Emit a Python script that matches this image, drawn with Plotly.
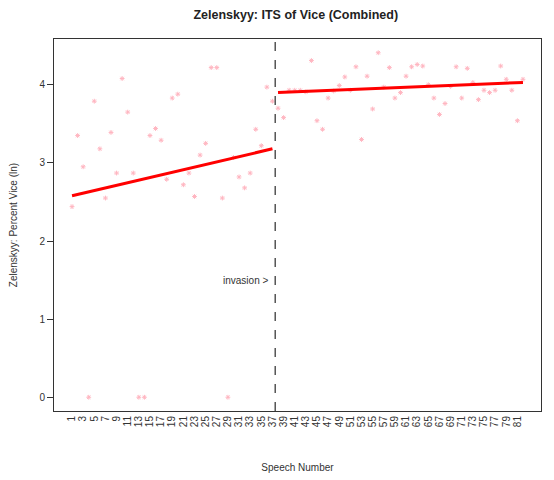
import plotly.graph_objects as go

speech = list(range(1, 83))
vice = [2.44, 3.35, 2.95, 0.00, 3.79, 3.18, 2.55, 3.39, 2.87, 4.08,
        3.65, 2.87, 0.00, 0.00, 3.35, 3.44, 3.29, 2.79, 3.83, 3.88,
        2.72, 2.87, 2.57, 3.10, 3.25, 4.22, 4.22, 2.55, 0.00, 3.07,
        2.82, 2.68, 2.87, 3.43, 3.22, 3.97, 3.79, 3.70, 3.58, 3.93,
        3.93, 3.93, 3.91, 4.31, 3.54, 3.43, 3.83, 3.92, 3.99, 4.10,
        3.93, 4.23, 3.30, 4.11, 3.69, 4.41, 3.97, 4.22, 3.83, 3.90,
        4.11, 4.23, 4.26, 4.24, 4.00, 3.83, 3.62, 3.76, 3.98, 4.23,
        3.83, 4.21, 4.03, 3.81, 3.93, 3.90, 3.93, 4.24, 4.07, 3.93,
        3.54, 4.07]

pre_x = [1, 37]
pre_fit = [2.58, 3.18]
post_x = [38, 82]
post_fit = [3.90, 4.03]

invasion_x = 37.5
tick_vals = list(range(1, 82, 2))
tick_text = [str(v) for v in tick_vals]

fig = go.Figure()
fig.add_trace(go.Scatter(x=speech, y=vice, mode="markers",
                         marker=dict(symbol="asterisk-open", size=4, color="#FFB6C1",
                                     line=dict(width=1, color="#FFB6C1")),
                         showlegend=False, hoverinfo="x+y"))
fig.add_trace(go.Scatter(x=pre_x, y=pre_fit, mode="lines",
                         line=dict(color="#FF0000", width=3), showlegend=False))
fig.add_trace(go.Scatter(x=post_x, y=post_fit, mode="lines",
                         line=dict(color="#FF0000", width=3), showlegend=False))

fig.add_shape(type="line", x0=invasion_x, x1=invasion_x, xref="x", yref="paper",
              y0=0, y1=1, line=dict(color="#555555", width=1.5, dash="dash"))
fig.add_annotation(x=invasion_x, y=1.5, xref="x", yref="y", text="invasion >",
                   showarrow=False, xanchor="right", xshift=-5,
                   font=dict(size=10, color="#333333"))

font_family = "Liberation Sans, Arial, sans-serif"
fig.update_layout(
    width=546, height=472,
    margin=dict(l=46, r=13, t=31, b=69),
    paper_bgcolor="white", plot_bgcolor="white",
    font=dict(family=font_family, size=10, color="#333333"),
    title=dict(text="<b>Zelenskyy: ITS of Vice (Combined)</b>", x=0.527, xanchor="center",
               y=0.987, yanchor="middle", font=dict(size=12.5, color="#222222")),
)
fig.update_xaxes(range=[-2.24, 85.24], tickmode="array", tickvals=tick_vals, ticktext=tick_text,
                 tickangle=-90, showgrid=False, zeroline=False, showline=True,
                 linecolor="#333333", linewidth=1, mirror=True, ticks="", automargin=False,
                 tickfont=dict(size=10), title=dict(text="Speech Number", standoff=37,
                                                     font=dict(size=10)))
fig.update_yaxes(range=[-0.176, 4.586], tickvals=[0, 1, 2, 3, 4], showgrid=False,
                 zeroline=False, showline=True, linecolor="#333333", linewidth=1,
                 mirror=True, ticks="outside", ticklen=6, tickcolor="#333333", automargin=False,
                 tickfont=dict(size=10),
                 title=dict(text="Zelenskyy: Percent Vice (ln)", standoff=21, font=dict(size=10)))

fig.write_html("out.html")
